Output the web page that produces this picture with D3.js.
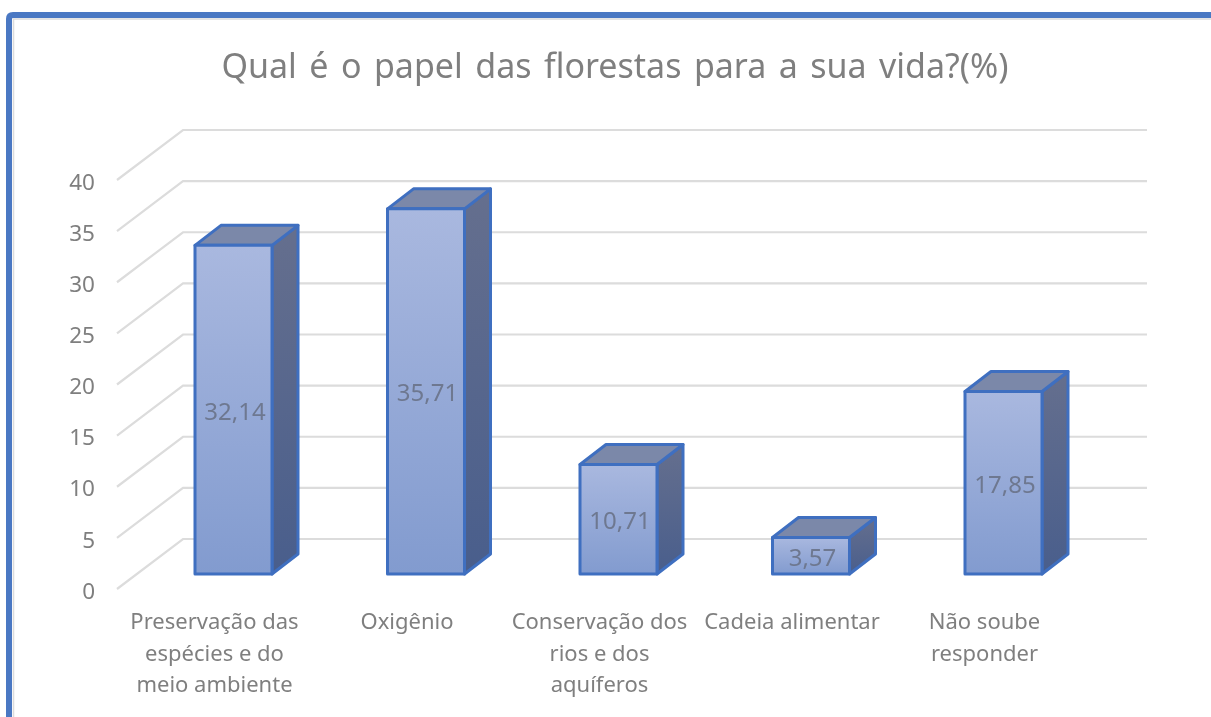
<!DOCTYPE html>
<html>
<head>
<meta charset="utf-8">
<script src="https://cdn.jsdelivr.net/npm/d3@7"></script>
<style>
    html, body { margin: 0; padding: 0; background: #fff; overflow: hidden; }
    svg { display: block; filter: blur(0.5px); }
    text { font-family: "Noto Sans", "Open Sans", sans-serif; fill: #7f7f7f; }
</style>
</head>
<body>
<svg id="chart" width="1211" height="717"></svg>
<script>
// Chart data
const categories = [
    ["Preservação das", "espécies e do", "meio ambiente"],
    ["Oxigênio"],
    ["Conservação dos", "rios e dos", "aquíferos"],
    ["Cadeia alimentar"],
    ["Não soube", "responder"]
];
const values = [32.14, 35.71, 10.71, 3.57, 17.85];
const tickValues = [0, 5, 10, 15, 20, 25, 30, 35, 40];
const titleText = "Qual é o papel das florestas para a sua vida?(%)";

const svg = d3.select("#chart");
const defs = svg.append("defs");

// Vertical gradients for the bar faces
function addGradient(id, top, bottom) {
    const grad = defs.append("linearGradient")
        .attr("id", id)
        .attr("x1", 0).attr("y1", 0).attr("x2", 0).attr("y2", 1);
    grad.append("stop").attr("offset", "0%").attr("stop-color", top);
    grad.append("stop").attr("offset", "100%").attr("stop-color", bottom);
}
addGradient("frontFill", "#a9b8df", "#829bcf");
addGradient("sideFill", "#656f8e", "#495e8c");

// Frame: blue border on top and left only, picture is cropped on the other sides
const frame = "M9,717 V19 Q9,15 13,15 H1211";
svg.append("path").attr("d", "M13.5,717 V19 H1211")
    .attr("fill", "none").attr("stroke", "#dcdcdc").attr("stroke-width", 1.5);
svg.append("path").attr("d", frame)
    .attr("fill", "none").attr("stroke", "#4a78c3").attr("stroke-width", 6);

// Title
svg.append("text")
    .attr("x", 615)
    .attr("y", 78)
    .attr("text-anchor", "middle")
    .style("font-size", "34px")
    .style("word-spacing", "3.6px")
    .text(titleText);

// Scales
const y = d3.scaleLinear().domain([0, 40]).range([589, 180]);
const x = d3.scaleBand()
    .domain(d3.range(categories.length))
    .range([137.25, 1099.75])
    .paddingInner(0.6)
    .paddingOuter(0.3);

// 3D offsets
const wallDx = 66, wallDy = -50;
const wallRight = 1147;
const barLift = -15;
const depthX = 26, depthY = -20;

// Gridlines: floor/side wall diagonal plus back wall line
const grid = svg.append("g");
grid.selectAll("path")
    .data(tickValues)
    .enter().append("path")
    .attr("d", d => `M117,${y(d)} L${117 + wallDx},${y(d) + wallDy} H${wallRight}`)
    .attr("fill", "none")
    .attr("stroke", "#dcdcdc")
    .attr("stroke-width", 2.2);

// Y axis labels
const yAxis = svg.append("g")
    .attr("transform", "translate(107,2)")
    .call(d3.axisLeft(y).tickValues(tickValues).tickSize(0).tickPadding(12));
yAxis.select(".domain").remove();
yAxis.selectAll("text")
    .style("font-family", '"Noto Sans", "Open Sans", sans-serif')
    .style("font-size", "22.5px")
    .style("fill", "#7f7f7f");

// Bars
const bars = svg.selectAll(".bar")
    .data(values)
    .enter().append("g")
    .attr("class", "bar");

const faceStyle = sel => sel
    .attr("stroke", "#3f6fc0")
    .attr("stroke-width", 3)
    .attr("stroke-linejoin", "round");

// right side
bars.append("path")
    .attr("d", (d, i) => {
        const r = x(i) + x.bandwidth(), t = y(d) + barLift, b = y(0) + barLift;
        return `M${r},${t} l${depthX},${depthY} V${b + depthY} L${r},${b} Z`;
    })
    .attr("fill", "url(#sideFill)")
    .call(faceStyle);

// top
bars.append("path")
    .attr("d", (d, i) => {
        const l = x(i), t = y(d) + barLift;
        return `M${l},${t} l${depthX},${depthY} h${x.bandwidth()} l${-depthX},${-depthY} Z`;
    })
    .attr("fill", "#7b88a9")
    .call(faceStyle);

// front
bars.append("rect")
    .attr("x", (d, i) => x(i))
    .attr("y", d => y(d) + barLift)
    .attr("width", x.bandwidth())
    .attr("height", d => y(0) - y(d))
    .attr("fill", "url(#frontFill)")
    .call(faceStyle);

// Value labels in the middle of the front face
const fmt = d3.format(".2f");
bars.append("text")
    .attr("x", (d, i) => x(i) + x.bandwidth() / 2 + 1.5)
    .attr("y", d => (y(d) + y(0)) / 2 + barLift + 10)
    .attr("text-anchor", "middle")
    .style("font-size", "24px")
    .style("fill", "#6e7890")
    .text(d => fmt(d).replace(".", ","));

// Category labels
const labels = svg.selectAll(".cat")
    .data(categories)
    .enter().append("text")
    .attr("class", "cat")
    .attr("text-anchor", "middle")
    .style("font-size", "22px");
labels.selectAll("tspan")
    .data((d, i) => d.map((line, k) => ({ line, k, i })))
    .enter().append("tspan")
    .attr("x", d => x(d.i) + x.bandwidth() / 2 - 19)
    .attr("y", d => 629 + d.k * 31.5)
    .text(d => d.line);
</script>
</body>
</html>
